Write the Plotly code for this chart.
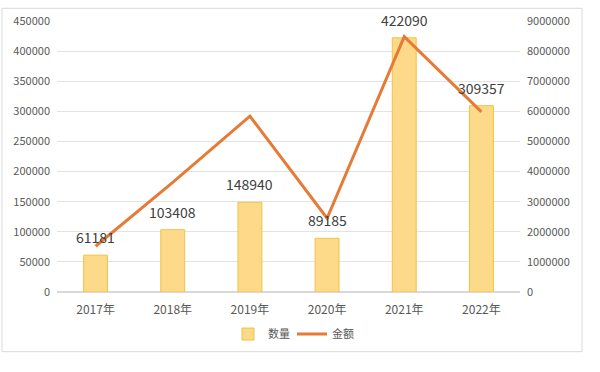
import plotly.graph_objects as go

categories = ["2017年", "2018年", "2019年", "2020年", "2021年", "2022年"]
quantity = [61181, 103408, 148940, 89185, 422090, 309357]
amount = [1520000, 3640000, 5840000, 2450000, 8480000, 5980000]
left_ticks = list(range(0, 450001, 50000))
right_ticks = list(range(0, 9000001, 1000000))

W, H = 600, 372
L, R, T, B = 57, 80, 15, 80
pw, ph = W - L - R, H - T - B

def px(x):
    return (x - L) / pw

def py(y):
    return (H - B - y) / ph

fig = go.Figure()
fig.add_trace(go.Bar(
    x=categories, y=quantity, name="数量",
    marker=dict(color="#FDD98A", line=dict(color="#F3C244", width=1)),
    width=0.31,
))
fig.add_trace(go.Scatter(
    x=categories, y=amount, name="金额", yaxis="y2", mode="lines",
    line=dict(color="#E57B36", width=3),
))

annotations = [
    dict(x=c, y=v, xref="x", yref="y", text=str(v), showarrow=False,
         yanchor="bottom", yshift=6,
         font=dict(size=14, color="#404040", family="Noto Sans CJK SC"))
    for c, v in zip(categories, quantity)
]

fig.update_layout(
    width=W, height=H,
    margin=dict(l=L, r=R, t=T, b=B),
    paper_bgcolor="white", plot_bgcolor="white",
    font=dict(family="Noto Sans CJK SC", color="#595959", size=11),
    showlegend=True,
    legend=dict(orientation="h", x=px(228), xanchor="left", y=py(335), yanchor="middle",
                font=dict(size=11, color="#595959"), itemwidth=30, traceorder="normal",
                entrywidth=19, entrywidthmode="pixels"),
    xaxis=dict(showgrid=False, showline=False, ticks="", ticklabelstandoff=9,
               tickfont=dict(size=12, color="#595959")),
    yaxis=dict(range=[0, 450000], tickvals=left_ticks, ticktext=[str(v) for v in left_ticks],
               showgrid=True, gridcolor="#E3E3E3", gridwidth=1, zeroline=True, zerolinecolor="#D9D9D9",
               ticks="", showline=False, ticklabelstandoff=6, tickfont=dict(size=11, color="#595959")),
    yaxis2=dict(range=[0, 9000000], tickvals=right_ticks, ticktext=[str(v) for v in right_ticks],
                overlaying="y", side="right", showgrid=False, zeroline=False, ticks="",
                showline=False, ticklabelstandoff=6, tickfont=dict(size=11, color="#595959")),
    annotations=annotations,
    shapes=[dict(type="rect", xref="paper", yref="paper",
                 x0=px(2), x1=px(582), y0=py(353), y1=py(2),
                 line=dict(color="#D9D9D9", width=1), fillcolor="rgba(0,0,0,0)", layer="below")],
)

fig.write_html("out.html")
